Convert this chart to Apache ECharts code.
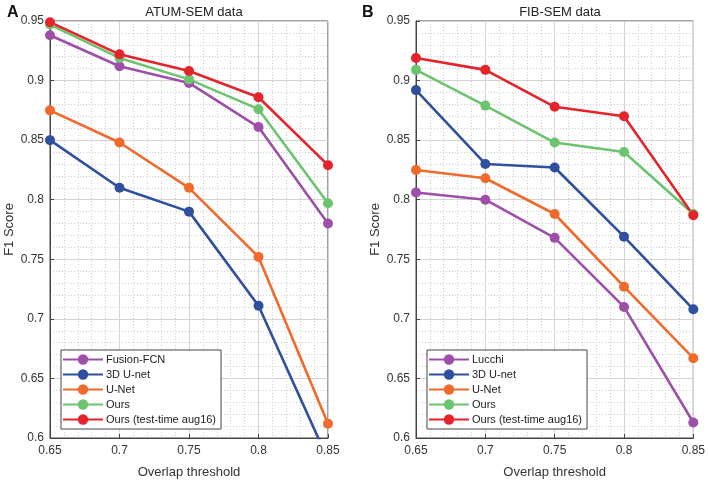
<!DOCTYPE html>
<html><head><meta charset="utf-8">
<script src="https://cdn.jsdelivr.net/npm/echarts@6/dist/echarts.min.js"></script>
<style>html,body{margin:0;padding:0;background:#fff}#c{width:708px;height:484px}</style>
</head><body><div id="c"></div>
<script>
const thresholds = [0.65, 0.7, 0.75, 0.8, 0.85];
const yTicks = [0.6, 0.65, 0.7, 0.75, 0.8, 0.85, 0.9, 0.95];
// Panel A: ATUM-SEM data
const atumNames = ["Fusion-FCN", "3D U-net", "U-Net", "Ours", "Ours (test-time aug16)"];
const atumFusionFCN = [0.938, 0.912, 0.898, 0.861, 0.780];
const atum3DUnet = [0.850, 0.810, 0.790, 0.711, 0.582];
const atumUNet = [0.875, 0.848, 0.810, 0.752, 0.612];
const atumOurs = [0.947, 0.919, 0.901, 0.876, 0.797];
const atumOursAug = [0.949, 0.922, 0.908, 0.886, 0.829];
// Panel B: FIB-SEM data
const fibNames = ["Lucchi", "3D U-net", "U-Net", "Ours", "Ours (test-time aug16)"];
const fibLucchi = [0.806, 0.800, 0.768, 0.710, 0.613];
const fib3DUnet = [0.892, 0.830, 0.827, 0.769, 0.708];
const fibUNet = [0.825, 0.818, 0.788, 0.727, 0.667];
const fibOurs = [0.909, 0.879, 0.848, 0.840, 0.788];
const fibOursAug = [0.919, 0.909, 0.878, 0.870, 0.787];

const colors = ["#9d4fa9", "#2f4f9f", "#f06a2b", "#6cc46e", "#e5232a"];
const font = "Liberation Sans, Arial, sans-serif";

function pairs(vals){ return thresholds.map((x,i)=>[x, vals[i]]); }
function mk(name, vals, idx, ci){
  return {type:'line', name, data:pairs(vals), xAxisIndex:idx, yAxisIndex:idx,
    symbol:'circle', symbolSize:10, clip:true,
    lineStyle:{width:2.6, color:colors[ci]}, itemStyle:{color:colors[ci]},
    emphasis:{disabled:true}};
}
function xAx(idx){
  return {type:'value', gridIndex:idx, min:0.65, max:0.85, interval:0.05,
    name:'Overlap threshold', nameLocation:'middle', nameGap:28,
    nameTextStyle:{fontFamily:font, fontSize:13, color:'#333'},
    axisLine:{show:true, lineStyle:{color:'#444'}},
    axisTick:{show:true, inside:true, length:4, lineStyle:{color:'#444'}},
    axisLabel:{fontFamily:font, fontSize:12, color:'#333', margin:7,
      formatter:v=>String(+v.toFixed(2))},
    splitLine:{show:true, lineStyle:{color:'#d4d4d4', width:1}},
    minorTick:{show:false, splitNumber:5},
    minorSplitLine:{show:true, lineStyle:{color:'#cfcfcf', type:[1,2], width:1}}};
}
function yAx(idx){
  return {type:'value', gridIndex:idx, min:0.6, max:0.95, interval:0.05,
    name:'F1 Score', nameLocation:'middle', nameGap:34,
    nameTextStyle:{fontFamily:font, fontSize:13, color:'#333'},
    axisLine:{show:true, lineStyle:{color:'#444'}},
    axisTick:{show:true, inside:true, length:4, lineStyle:{color:'#444'}},
    axisLabel:{fontFamily:font, fontSize:12, color:'#333', margin:6,
      formatter:v=>String(+v.toFixed(2))},
    splitLine:{show:true, lineStyle:{color:'#d4d4d4', width:1}},
    minorTick:{show:false, splitNumber:5},
    minorSplitLine:{show:true, lineStyle:{color:'#cfcfcf', type:[1,2], width:1}}};
}
function legend(names, left){
  return {data:names, orient:'vertical', left:left, top:350, itemGap:4,
    itemWidth:40, itemHeight:13, itemStyle:{borderWidth:0}, padding:[4,5,4,1],
    borderColor:'#444', borderWidth:1, backgroundColor:'#fff',
    textStyle:{fontFamily:font, fontSize:11, color:'#222', padding:[0,0,0,-2]}, selectedMode:false};
}
const chart = echarts.init(document.getElementById('c'), null, {renderer:'canvas'});
chart.setOption({
  animation:false,
  backgroundColor:'#fff',
  title:[
    {text:'ATUM-SEM data', left:189, top:1, textAlign:'center', textStyle:{fontFamily:font, fontSize:13, fontWeight:'normal', color:'#222'}},
    {text:'FIB-SEM data', left:555, top:1, textAlign:'center', textStyle:{fontFamily:font, fontSize:13, fontWeight:'normal', color:'#222'}},
    {text:'A', left:2, top:0, textStyle:{fontFamily:font, fontSize:16, fontWeight:'bold', color:'#111'}},
    {text:'B', left:357, top:0, textStyle:{fontFamily:font, fontSize:16, fontWeight:'bold', color:'#111'}}
  ],
  grid:[
    {left:50, top:21, width:278, height:420, show:true, borderColor:'#444', borderWidth:1, backgroundColor:'transparent'},
    {left:416, top:21, width:278, height:420, show:true, borderColor:'#444', borderWidth:1, backgroundColor:'transparent'}
  ],
  xAxis:[xAx(0), xAx(1)],
  yAxis:[yAx(0), yAx(1)],
  legend:[legend(atumNames, 61), legend(fibNames, 427)],
  series:[
    mk(atumNames[0], atumFusionFCN, 0, 0),
    mk(atumNames[1], atum3DUnet, 0, 1),
    mk(atumNames[2], atumUNet, 0, 2),
    mk(atumNames[3], atumOurs, 0, 3),
    mk(atumNames[4], atumOursAug, 0, 4),
    mk(fibNames[0], fibLucchi, 1, 0),
    mk(fibNames[1], fib3DUnet, 1, 1),
    mk(fibNames[2], fibUNet, 1, 2),
    mk(fibNames[3], fibOurs, 1, 3),
    mk(fibNames[4], fibOursAug, 1, 4)
  ]
});
</script></body></html>
